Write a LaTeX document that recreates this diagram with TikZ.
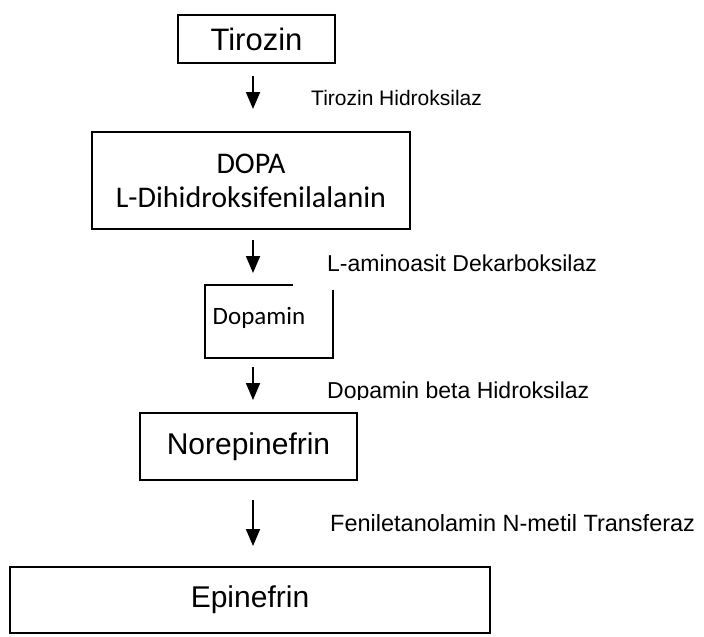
\documentclass[tikz,border=0pt]{standalone}
\usepackage{fontspec}
\setmainfont{Liberation Sans}
\newfontfamily\calibri{Carlito}
\usetikzlibrary{arrows.meta,positioning}
\tikzset{
  stage/.style={rectangle,draw=black,line width=1.8pt,inner sep=0pt,
                align=center,font=\fontsize{30}{34}\selectfont},
  cstage/.style={rectangle,draw=black,line width=1.8pt,inner sep=0pt,
                 align=center,font=\calibri\fontsize{30}{34}\selectfont},
  enzyme/.style={anchor=west,inner sep=0pt,font=\fontsize{23}{26}\selectfont},
  arr/.style={-{Triangle[length=17pt,width=14pt]},line width=1.8pt,draw=black},
  edge/.style={line width=1.8pt,draw=black},
}
\begin{document}
\begin{tikzpicture}[x=1pt,y=-1pt]
  \useasboundingbox (0,0) rectangle (704,637);
  % boxes
  \node[stage,minimum width=157pt,minimum height=48pt,font=\fontsize{31}{34}\selectfont]
    (tirozin) at (256.5,39) {Tirozin};
  \node[cstage,minimum width=318pt,minimum height=97pt] (dopa) at (251,180.5)
    {DOPA\\L-Dihidroksifenilalanin};
  \node[inner sep=0pt,font=\calibri\fontsize{25}{28}\selectfont] (dopamin) at (259,318) {Dopamin};
  \node[stage,minimum width=217pt,minimum height=67pt] (norepi) at (248.5,446.5) {Norepinefrin};
  \node[stage,minimum width=480pt,minimum height=66pt] (epi) at (250,600) {Epinefrin};
  % open frame round Dopamin
  \coordinate (dtl) at (205,285);
  \coordinate (dtr) at (293,285);
  \coordinate (drt) at (333,290);
  \coordinate (dbr) at (333,358);
  \coordinate (dbl) at (205,358);
  \draw[edge] (dtr) -- (dtl) -- (dbl) -- (dbr) -- (drt);
  % arrows
  \coordinate (a1s) at (253,76);  \coordinate (a1e) at (253,109);
  \coordinate (a2s) at (253,240); \coordinate (a2e) at (253,273);
  \coordinate (a3s) at (253,367); \coordinate (a3e) at (253,400);
  \coordinate (a4s) at (253,500); \coordinate (a4e) at (253,546);
  \draw[arr] (a1s) -- (a1e);
  \draw[arr] (a2s) -- (a2e);
  \draw[arr] (a3s) -- (a3e);
  \draw[arr] (a4s) -- (a4e);
  % enzymes
  \node[enzyme,font=\fontsize{21}{24}\selectfont] (hid) at (311,98) {Tirozin Hidroksilaz};
  \node[enzyme] (dek) at (327,263) {L-aminoasit Dekarboksilaz};
  \begin{scope}
    \clip (300,370) rectangle (704,399);
    \node[enzyme,anchor=base west] (dbh) at (327,398) {Dopamin beta Hidroksilaz};
  \end{scope}
  \node[enzyme,font=\fontsize{23.5}{27}\selectfont] (pnmt) at (330,523)
    {Feniletanolamin N-metil Transferaz};
\end{tikzpicture}
\end{document}
